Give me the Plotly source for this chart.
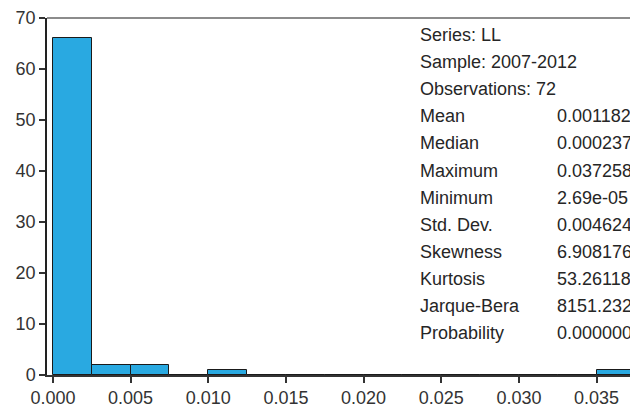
import plotly.graph_objects as go

# Histogram bins (left edges) and counts
bin_width = 0.0025
bin_left = [0.0, 0.0025, 0.005, 0.0075, 0.01, 0.0125, 0.015, 0.0175, 0.02,
            0.0225, 0.025, 0.0275, 0.03, 0.0325, 0.035]
counts = [66, 2, 2, 0, 1, 0, 0, 0, 0, 0, 0, 0, 0, 0, 1]

x_ticks = [0.0, 0.005, 0.01, 0.015, 0.02, 0.025, 0.03, 0.035]
x_tick_labels = ["0.000", "0.005", "0.010", "0.015", "0.020", "0.025", "0.030", "0.035"]
y_ticks = [0, 10, 20, 30, 40, 50, 60, 70]

header_lines = ["Series: LL", "Sample: 2007-2012", "Observations: 72"]
stat_names = ["Mean", "Median", "Maximum", "Minimum", "Std. Dev.", "Skewness",
              "Kurtosis", "Jarque-Bera", "Probability"]
stat_values = ["0.001182", "0.000237", "0.037258", "2.69e-05", "0.004624",
               "6.908176", "53.26118", "8151.232", "0.000000"]

W, H = 630, 406
ml, mt, mb, mr = 47, 18, 31, 0
plot_w = W - ml - mr
plot_h = H - mt - mb

centers = [b + bin_width / 2 for b in bin_left]
fig = go.Figure(go.Bar(
    x=centers, y=counts, width=[bin_width] * len(centers),
    marker=dict(color="#29a9e1", line=dict(color="#1a1a1a", width=1)),
    hoverinfo="skip",
))

FONT = "Liberation Sans, Arial, sans-serif"
FS = 18
annotations = []


def px_to_paper(xp, yp):
    return (xp - ml) / plot_w, (H - mb - yp) / plot_h


line_gap = 27.1
y0 = 35
lines = header_lines + stat_names
for i, txt in enumerate(lines):
    xp, yp = px_to_paper(418, y0 + i * line_gap)
    annotations.append(dict(x=xp, y=yp, xref="paper", yref="paper", text=txt,
                            showarrow=False, xanchor="left", yanchor="middle",
                            font=dict(family=FONT, size=FS, color="#262626")))
for j, val in enumerate(stat_values):
    xp, yp = px_to_paper(555, y0 + (j + 3) * line_gap)
    annotations.append(dict(x=xp, y=yp, xref="paper", yref="paper", text=val,
                            showarrow=False, xanchor="left", yanchor="middle",
                            font=dict(family=FONT, size=FS, color="#262626")))

fig.update_layout(
    width=W, height=H,
    margin=dict(l=ml, r=mr, t=mt, b=mb, pad=0),
    paper_bgcolor="white", plot_bgcolor="white",
    showlegend=False,
    bargap=0,
    font=dict(family=FONT, size=FS, color="#333"),
    xaxis=dict(range=[-0.00038, 0.03715], tickvals=x_ticks, ticktext=x_tick_labels,
               showgrid=False, zeroline=False, showline=True, linecolor="#333",
               linewidth=1.5, ticks="outside", ticklen=6,
               tickcolor="#333", tickwidth=1.5, automargin=False,
               tickfont=dict(size=FS, color="#333")),
    yaxis=dict(range=[0, 70], tickvals=y_ticks, showgrid=False, zeroline=False,
               showline=True, linecolor="#222", linewidth=1.5, ticks="outside",
               ticklen=6, tickcolor="#333", tickwidth=1.5, automargin=False,
               tickfont=dict(size=FS, color="#333")),
    shapes=[dict(type="line", xref="paper", yref="paper", x0=0, x1=1, y0=1, y1=1,
                 line=dict(color="#666", width=1.3))],
    annotations=annotations,
)

fig.write_html(
    "out.html",
    config={"displayModeBar": False},
    post_script="document.body.style.margin='0';document.body.style.overflow='hidden';",
)
